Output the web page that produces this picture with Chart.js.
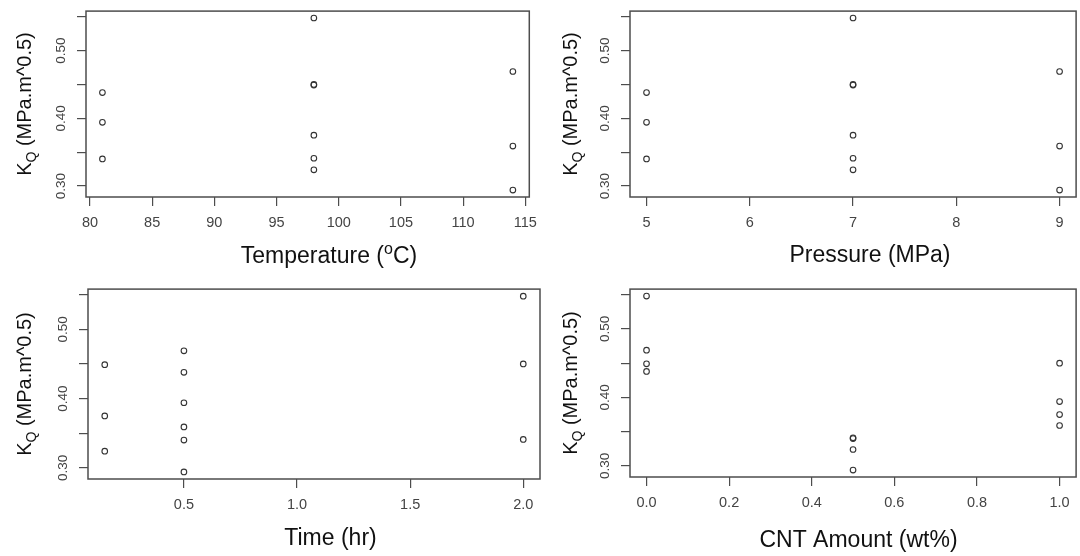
<!DOCTYPE html>
<html>
<head>
<meta charset="utf-8">
<script src="https://cdn.jsdelivr.net/npm/chart.js@4/dist/chart.umd.min.js"></script>
<style>
  html, body { margin: 0; padding: 0; background: #fff; }
  #wrap { position: relative; width: 1080px; height: 556px; overflow: hidden; }
  canvas { position: absolute; }
</style>
</head>
<body>
<div id="wrap">
  <canvas id="temp" width="545" height="278" style="left:0;top:0"></canvas>
  <canvas id="press" width="540" height="278" style="left:540px;top:0"></canvas>
  <canvas id="time" width="545" height="278" style="left:0;top:278px"></canvas>
  <canvas id="cnt" width="540" height="278" style="left:540px;top:278px"></canvas>
</div>
<script>
// fracture toughness of each specimen, same order in every factor array
const kq = [0.548, 0.469, 0.449, 0.450, 0.438, 0.394, 0.375, 0.359, 0.341, 0.340, 0.324, 0.294];
const temperature = [98, 114, 98, 98, 81, 81, 98, 114, 98, 81, 98, 114];
const pressure = [7, 9, 7, 7, 5, 5, 7, 9, 7, 5, 7, 9];
const time = [2.0, 0.5, 0.15, 2.0, 0.5, 0.5, 0.15, 0.5, 2.0, 0.5, 0.15, 0.5];
const cnt = [0, 0, 0, 1, 0, 1, 1, 1, 0.5, 0.5, 0.5, 0.5];

const kqTicks = [0.30, 0.35, 0.40, 0.45, 0.50, 0.55];
const kqLabelled = [0.30, 0.40, 0.50];
const temperatureTicks = [80, 85, 90, 95, 100, 105, 110, 115];
const pressureTicks = [5, 6, 7, 8, 9];
const timeTicks = [0.5, 1.0, 1.5, 2.0];
const cntTicks = [0, 0.2, 0.4, 0.6, 0.8, 1.0];

const FONT = '"Liberation Sans", Arial, Helvetica, sans-serif';
const LINE = '#4d4d4d';

// R style axis range: data range widened by 4% each side
function rRange(v) {
  const lo = Math.min(...v), hi = Math.max(...v), d = (hi - lo) * 0.04;
  return [lo - d, hi + d];
}

// draw a label made of pieces, s: 1 superscript, -1 subscript
function drawParts(ctx, parts, cx, base, rot, size) {
  ctx.save();
  ctx.translate(cx, base);
  ctx.rotate(rot);
  ctx.textAlign = 'left';
  ctx.textBaseline = 'alphabetic';
  ctx.fillStyle = '#111';
  const fonts = parts.map(q => (q.s ? Math.round(size * 0.68) : size) + 'px ' + FONT);
  let w = 0;
  const ws = parts.map((q, i) => { ctx.font = fonts[i]; const m = ctx.measureText(q.t).width; w += m; return m; });
  let x = -w / 2;
  parts.forEach((q, i) => {
    ctx.font = fonts[i];
    const dy = q.s === 1 ? -size * 0.37 : (q.s === -1 ? size * 0.25 : 0);
    ctx.fillText(q.t, x, dy);
    x += ws[i];
  });
  ctx.restore();
}

const yTitle = [{ t: 'K' }, { t: 'Q', s: -1 }, { t: ' (MPa.m^0.5)' }];

const panels = [
  { id: 'temp', xs: temperature, ticks: temperatureTicks, fmt: v => String(v),
    title: [{ t: 'Temperature (' }, { t: 'o', s: 1 }, { t: 'C)' }],
    yWidth: 86, padTop: 9, padRight: 14, xHeight: 81, titleX: 329, titleY: 262.5, yTitleX: 31 },
  { id: 'press', xs: pressure, ticks: pressureTicks, fmt: v => String(v),
    title: [{ t: 'Pressure (MPa)' }],
    yWidth: 90, padTop: 7, padRight: 2, xHeight: 81, titleX: 330, titleY: 262, yTitleX: 37 },
  { id: 'time', xs: time, ticks: timeTicks, fmt: v => v.toFixed(1),
    title: [{ t: 'Time (hr)' }],
    yWidth: 88, padTop: 11, padRight: 5, xHeight: 77, titleX: 330.5, titleY: 267, yTitleX: 31 },
  { id: 'cnt', xs: cnt, ticks: cntTicks, fmt: v => v.toFixed(1),
    title: [{ t: 'CNT Amount (wt%)' }],
    yWidth: 90, padTop: 9, padRight: 2, xHeight: 79, titleX: 318.5, titleY: 269, yTitleX: 37 }
];

const yRange = rRange(kq);

panels.forEach(p => {
  const xRange = rRange(p.xs);
  const framePlugin = {
    id: 'frame_' + p.id,
    afterDraw(chart) {
      const ctx = chart.ctx, a = chart.chartArea;
      ctx.save();
      ctx.strokeStyle = LINE;
      ctx.lineWidth = 1.5;
      ctx.strokeRect(a.left, a.top, a.right - a.left, a.bottom - a.top);
      ctx.restore();
      drawParts(ctx, p.title, p.titleX, p.titleY, 0, 23);
      drawParts(ctx, yTitle, p.yTitleX, (a.top + a.bottom) / 2, -Math.PI / 2, 20);
    }
  };

  new Chart(document.getElementById(p.id), {
    type: 'scatter',
    data: {
      datasets: [{
        data: p.xs.map((x, i) => ({ x: x, y: kq[i] })),
        pointStyle: 'circle',
        pointRadius: 2.8,
        pointHoverRadius: 2.8,
        pointBorderWidth: 1.1,
        pointBorderColor: '#333',
        pointBackgroundColor: 'rgba(0,0,0,0)'
      }]
    },
    options: {
      responsive: false,
      animation: false,
      devicePixelRatio: 1,
      layout: { padding: { left: 0, right: p.padRight, top: p.padTop, bottom: 0 } },
      plugins: { legend: { display: false }, tooltip: { enabled: false } },
      scales: {
        x: {
          type: 'linear',
          min: xRange[0],
          max: xRange[1],
          afterBuildTicks: s => { s.ticks = p.ticks.map(v => ({ value: v })); },
          afterFit: s => { s.height = p.xHeight; },
          border: { display: false },
          grid: { drawOnChartArea: false, drawTicks: true, tickLength: 9, color: LINE, lineWidth: 1.2 },
          ticks: {
            autoSkip: false, maxRotation: 0, minRotation: 0, padding: 8,
            color: '#444', font: { family: FONT, size: 14.5 },
            callback: v => p.fmt(v)
          }
        },
        y: {
          type: 'linear',
          min: yRange[0],
          max: yRange[1],
          afterBuildTicks: s => { s.ticks = kqTicks.map(v => ({ value: v })); },
          afterFit: s => { s.width = p.yWidth; },
          border: { display: false },
          grid: { drawOnChartArea: false, drawTicks: true, tickLength: 9, color: LINE, lineWidth: 1.2 },
          ticks: {
            autoSkip: false, minRotation: 90, maxRotation: 90, crossAlign: 'center', padding: 3,
            color: '#444', font: { family: FONT, size: 13.5 },
            callback: v => kqLabelled.some(t => Math.abs(t - v) < 1e-9) ? v.toFixed(2) : ''
          }
        }
      }
    },
    plugins: [framePlugin]
  });
});
</script>
</body>
</html>
